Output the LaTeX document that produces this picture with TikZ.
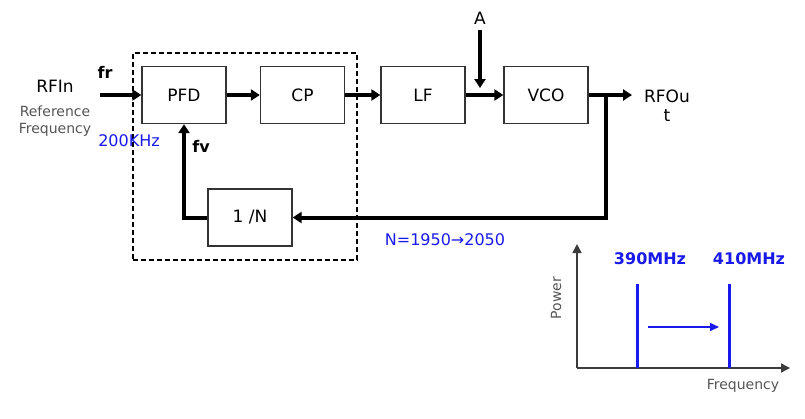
\documentclass[tikz,border=0pt]{standalone}
\usepackage{fontspec}
\setmainfont{DejaVu Sans}
\usetikzlibrary{arrows.meta,positioning}
\definecolor{LoopBlue}{RGB}{25,25,235}
\definecolor{LabelGray}{RGB}{85,85,85}
\definecolor{AxisGray}{RGB}{60,60,60}

\begin{document}
\begin{tikzpicture}[x=1pt,y=-1pt,
    blk/.style={draw=black!80,line width=1.3pt,minimum width=84pt,minimum height=57pt,inner sep=0pt,
        font=\fontsize{17}{19}\selectfont},
    sig/.style={line width=4pt,-{Triangle[length=9pt,width=11pt]}},
    lbl/.style={font=\fontsize{17}{19}\selectfont,inner sep=0pt},
    note/.style={font=\fontsize{14}{17}\selectfont,text=LabelGray,inner sep=0pt},
    freq/.style={font=\fontsize{16}{18}\selectfont\bfseries,text=LoopBlue,inner sep=0pt}]
    \useasboundingbox (0,0) rectangle (805,418);

    % PLL loop
    \node[draw,line width=2pt,dash pattern=on 5pt off 3pt,minimum width=224pt,minimum height=207pt]
        (pll) at (245,156.5) {};
    \node[blk] (pfd) at (184,95)    {PFD};
    \node[blk] (cp)  at (302.5,95)  {CP};
    \node[blk] (lf)  at (423,95)    {LF};
    \node[blk] (vco) at (546,95)    {VCO};
    \node[blk] (div) at (250,217.5) {1 /N};

    \coordinate (rfi) at (100,95);
    \coordinate (sum) at (480,95);
    \coordinate (tap) at (606,95);
    \coordinate (rfo) at (632,95);

    \node[lbl] (rfin) at (55,86) {RFIn};
    \node[note] (ref1) at (55,111) {Reference};
    \node[note] (ref2) at (55,130) {Frequency};
    \node[lbl,font=\fontsize{16}{18}\selectfont\bfseries] (fr) at (105,72) {fr};
    \node[lbl,font=\fontsize{16}{18}\selectfont\bfseries] (fv) at (201,146) {fv};
    \node[lbl,font=\fontsize{16}{18}\selectfont,text=LoopBlue] (fref) at (129,141) {200KHz};
    \node[lbl] (a) at (480,18) {A};
    \node[lbl,align=center] (rfout) at (667,106) {RFOu\\t};
    \node[lbl,font=\fontsize{16}{18}\selectfont,text=LoopBlue] (nrange) at (445,240) {N=1950→2050};

    \draw[sig] (rfi) -- (pfd.west);
    \draw[sig] (pfd.east) -- (cp.west);
    \draw[sig] (cp.east) -- (lf.west);
    \draw[sig] (lf.east) -- (vco.west);
    \draw[sig,shorten <=6pt,shorten >=7pt] (a) -- (sum);
    \draw[sig] (vco.east) -- (rfo);
    \draw[sig] (tap) |- (div.east);
    \draw[sig] (div.west) -| (pfd.south);

    % spectrum
    \coordinate (orig) at (577,368);
    \draw[line width=1.5pt,AxisGray,-{Triangle[length=9pt,width=9pt]}] (orig) -- (577,244);
    \draw[line width=1.5pt,AxisGray,-{Triangle[length=9pt,width=9pt]}] (orig) -- (790,368);
    \draw[line width=3pt,LoopBlue] (637,368) -- (637,284);
    \draw[line width=3pt,LoopBlue] (729,368) -- (729,284);
    \draw[line width=1.5pt,LoopBlue,-{Triangle[length=9pt,width=8pt]}] (648,327) -- (719,327);
    \node[freq] (f1) at (650,259) {390MHz};
    \node[freq] (f2) at (749,259) {410MHz};
    \node[note,rotate=90] (pw) at (556,298) {Power};
    \node[note] (fq) at (743,386) {Frequency};
\end{tikzpicture}
\end{document}
